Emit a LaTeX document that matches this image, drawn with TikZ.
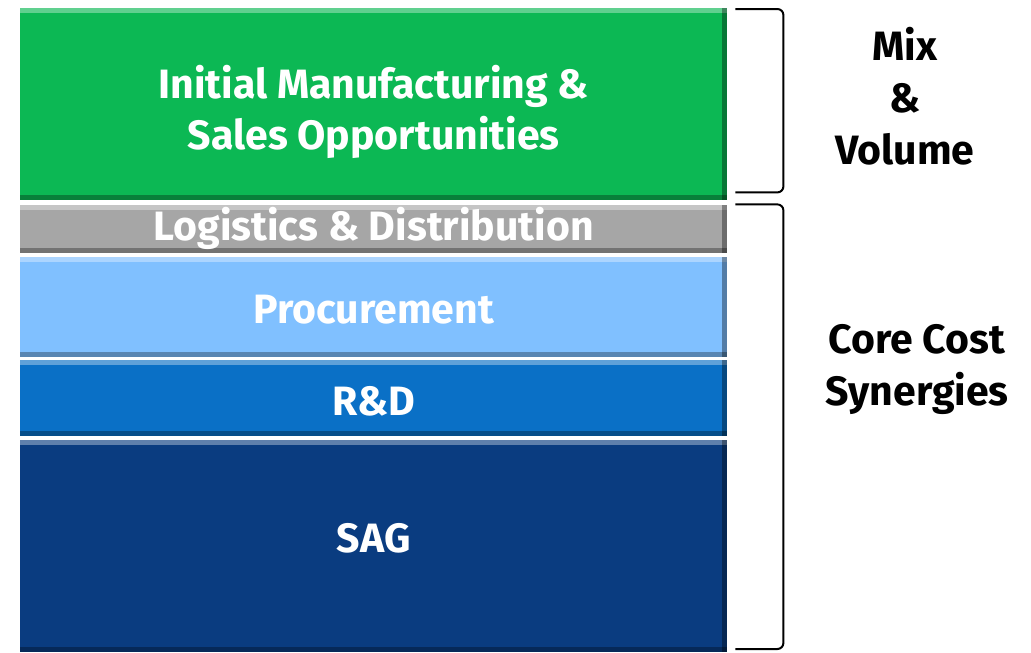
\documentclass[tikz,border=0pt]{standalone}
\usepackage{fontspec}
\setmainfont{Fira Sans}
\usepackage{tikz}
\usetikzlibrary{positioning}
\definecolor{mvgreen}{RGB}{12,184,84}
\definecolor{ldgray}{RGB}{166,166,166}
\definecolor{problue}{RGB}{128,192,255}
\definecolor{rdblue}{RGB}{10,112,198}
\definecolor{sagblue}{RGB}{10,60,128}
\newcommand{\shiftdown}[2]{\raisebox{-#1}[\height][\depth]{#2}}
\tikzstyle{layer} = [rectangle, minimum width=707pt, inner sep=0pt, text centered, text=white, font=\bfseries\fontsize{41}{50}\selectfont, align=center,
  path picture={
    \fill[white,opacity=.35] (path picture bounding box.north west) rectangle ([yshift=-5pt]path picture bounding box.north east);
    \fill[black,opacity=.3] (path picture bounding box.south west) rectangle ([yshift=5pt]path picture bounding box.south east);
    \fill[black,opacity=.35] ([xshift=-5pt]path picture bounding box.north east) rectangle (path picture bounding box.south east);
  }]
\tikzstyle{label} = [text=black, font=\bfseries\fontsize{41}{52}\selectfont, align=center]
\tikzstyle{bracket} = [thick, line width=2pt, rounded corners=6pt]

\begin{document}
\begin{tikzpicture}[x=1pt, y=-1pt]
        \useasboundingbox (0,0) rectangle (1031,653);
        \node (mfg) [layer, fill=mvgreen, minimum height=192pt, anchor=north west] at (20,8) {\shiftdown{8pt}{\shortstack{Initial Manufacturing \&\\[6pt]Sales Opportunities}}};
        \node (log) [layer, fill=ldgray, minimum height=48pt, below=4pt of mfg] {Logistics \& Distribution};
        \node (pro) [layer, fill=problue, minimum height=100pt, below=4pt of log] {\shiftdown{3pt}{Procurement}};
        \node (rd) [layer, fill=rdblue, minimum height=76pt, below=3pt of pro] {\shiftdown{3pt}{R\&D}};
        \node (sag) [layer, fill=sagblue, minimum height=212pt, below=3pt of rd] {\shiftdown{-8pt}{SAG}};
        % brackets
        \draw [bracket] ([xshift=8pt, yshift=-1pt]mfg.north east) -- ++(48pt,0) |- ([xshift=8pt, yshift=8pt]mfg.south east);
        \draw [bracket] ([xshift=8pt]log.north east) -- ++(48pt,0) |- ([xshift=8pt, yshift=3pt]sag.south east);
        \node (mixvol) [label] at (905,96) {Mix\\\&\\Volume};
        \node (core) [label] at (917,369) {Core Cost\\Synergies};
    \end{tikzpicture}
\end{document}
